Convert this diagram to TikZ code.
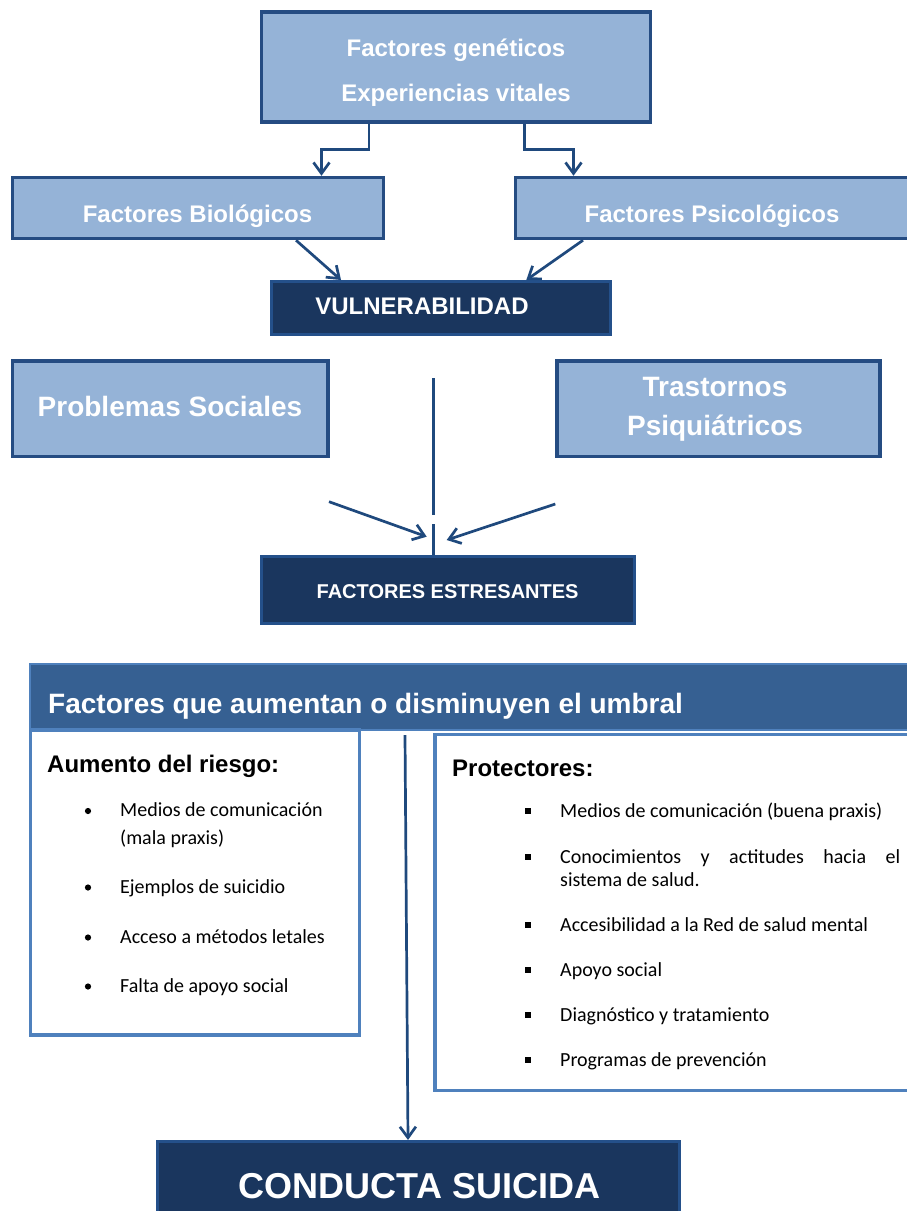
\documentclass[tikz,border=0pt]{standalone}
\usepackage{fontspec}
\setmainfont{Liberation Sans}
\newfontfamily\calfont{Carlito}
\usetikzlibrary{arrows.meta}
\definecolor{lightfill}{HTML}{95B3D7}
\definecolor{lightdraw}{HTML}{254C82}
\definecolor{navyfill}{HTML}{1A365E}
\definecolor{navydraw}{HTML}{24508A}
\definecolor{headfill}{HTML}{366092}
\definecolor{paneldraw}{HTML}{4F81BD}
\definecolor{conncol}{HTML}{1F497D}
\begin{document}
\begin{tikzpicture}[x=1pt,y=-1pt,
  lbox/.style={draw=lightdraw, fill=lightfill, line width=3.5pt, inner sep=0pt},
  nbox/.style={draw=navydraw, fill=navyfill, line width=3pt, inner sep=0pt},
  hbar/.style={draw=paneldraw, fill=headfill, line width=2pt, inner sep=0pt},
  panel/.style={draw=paneldraw, fill=white, line width=3.5pt, inner sep=0pt},
  wtext/.style={text=white, inner sep=0pt, font=\bfseries\fontsize{24}{28}\selectfont},
  btext/.style={text=black, inner sep=0pt, font=\bfseries\fontsize{24}{28}\selectfont},
  ltext/.style={text=black, inner sep=0pt, anchor=base west, font=\calfont\fontsize{20}{24}\selectfont},
  conn/.style={draw=conncol, line width=2.7pt},
  arr/.style={conn, -{Straight Barb[length=11pt,width=16pt]}}
]
\useasboundingbox (0,0) rectangle (906,1211);

% ---- boxes ----
\node[lbox, minimum width=389pt, minimum height=110pt] (gen) at (456,67) {};
\node[wtext, anchor=base] (tgen1) at (456,56) {Factores genéticos};
\node[wtext, anchor=base] (tgen2) at (456,101.7) {Experiencias vitales};

\node[lbox, minimum width=371pt, minimum height=61pt] (bio) at (198,208) {};
\node[wtext, anchor=base] (tbio) at (197.5,222.3) {Factores Biológicos};

\node[lbox, minimum width=404pt, minimum height=61pt] (psi) at (717.7,208) {};
\node[wtext, anchor=base] (tpsi) at (712,222.3) {Factores Psicológicos};

\node[nbox, minimum width=339pt, minimum height=53pt] (vul) at (441,308) {};
\node[wtext, anchor=base] (tvul) at (422,314) {VULNERABILIDAD};

\node[lbox, minimum width=315.7pt, minimum height=95.5pt] (prob) at (170.3,408.8) {};
\node[wtext, anchor=base, font=\bfseries\fontsize{28}{32}\selectfont] (tprob) at (170,416) {Problemas Sociales};

\node[lbox, minimum width=323pt, minimum height=95.5pt] (tras) at (718.4,408.8) {};
\node[wtext, anchor=base, font=\bfseries\fontsize{28}{32}\selectfont] (ttras1) at (715,396.7) {Trastornos};
\node[wtext, anchor=base, font=\bfseries\fontsize{28}{32}\selectfont] (ttras2) at (715,435) {Psiquiátricos};

\node[nbox, minimum width=373pt, minimum height=67pt] (fac) at (448,590) {};
\node[wtext, anchor=base, font=\bfseries\fontsize{20}{24}\selectfont] (tfac) at (447.6,598) {FACTORES ESTRESANTES};

% ---- threshold section ----
\node[hbar, minimum width=900pt, minimum height=66pt] (head) at (480,697) {};
\node[wtext, anchor=base west, font=\bfseries\fontsize{28}{32}\selectfont] (thead) at (48,713) {Factores que aumentan o disminuyen el umbral};

\node[panel, minimum width=494.8pt, minimum height=355.8pt] (prot) at (682.6,912.4) {};
\node[panel, minimum width=328.6pt, minimum height=305.3pt] (riesgo) at (195,882.4) {};

\node[btext, anchor=base west] (triesgo) at (47,772.7) {Aumento del riesgo:};
\node[btext, anchor=base west] (tprot) at (452,776) {Protectores:};

% left list
\node[ltext] (a1) at (120,816.5) {Medios de comunicación};
\node[ltext] (a1b) at (120,844) {(mala praxis)};
\node[ltext] (a2) at (120,893) {Ejemplos de suicidio};
\node[ltext] (a3) at (120,943) {Acceso a métodos letales};
\node[ltext] (a4) at (120,992) {Falta de apoyo social};
\foreach \b in {816.5,893,943,992}
  \fill[black] (88,\b-5.5) circle (3.1pt);

% right list
\node[ltext] (p1) at (560,817) {Medios de comunicación (buena praxis)};
\node[ltext] (p2) at (560,863) {\makebox[340pt][l]{Conocimientos\hfill y\hfill actitudes\hfill hacia\hfill el}};
\node[ltext] (p2b) at (560,886) {sistema de salud.};
\node[ltext] (p3) at (560,931) {Accesibilidad a la Red de salud mental};
\node[ltext] (p4) at (560,976) {Apoyo social};
\node[ltext] (p5) at (560,1021) {Diagnóstico y tratamiento};
\node[ltext] (p6) at (560,1066) {Programas de prevención};
\foreach \b in {817,863,931,976,1021,1066}
  \fill[black] (524.5,\b-9) rectangle (530.5,\b-3);

\node[nbox, minimum width=522pt, minimum height=98.5pt] (cond) at (418.5,1190.75) {};
\node[wtext, anchor=base, font=\bfseries\fontsize{36}{40}\selectfont] (tcond) at (419.5,1198) {CONDUCTA SUICIDA};

% ---- connectors ----
\draw[arr] ([xshift=-87pt]gen.south) -- ++(0,26) -| ([xshift=123.5pt]bio.north);
\draw[arr] ([xshift=68.5pt]gen.south) -- ++(0,26) -| ([xshift=-144.2pt]psi.north);
\draw[arr] ([xshift=98pt]bio.south) -- ([xshift=-100pt]vul.north);
\draw[arr] ([xshift=-134.7pt]psi.south) -- ([xshift=85.3pt]vul.north);

\coordinate (vtop) at (433.5,378);
\coordinate (vgapA) at (433.5,515);
\coordinate (vgapB) at (433.5,524);
\draw[conn] (vtop) -- (vgapA);
\draw[conn] (vgapB) -- (vgapB |- fac.north);

\coordinate (ps) at (329,501.7);
\coordinate (pe) at (426.7,536.7);
\coordinate (ts) at (555.3,504);
\coordinate (te) at (446.7,540);
\draw[arr] (ps) -- (pe);
\draw[arr] (ts) -- (te);

\coordinate (ctop) at (405,735);
\draw[arr] (ctop) -- ([xshift=-10.5pt]cond.north);
\end{tikzpicture}
\end{document}
